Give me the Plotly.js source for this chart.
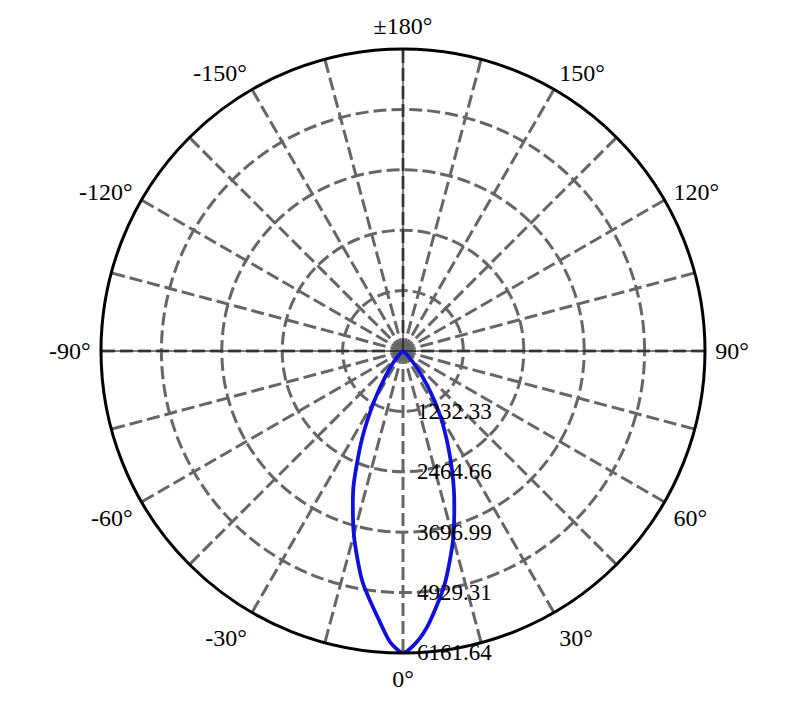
<!DOCTYPE html>
<html>
<head>
<meta charset="utf-8">
<script src="https://cdn.plot.ly/plotly-3.0.1.min.js"></script>
<style>
  html, body { margin: 0; padding: 0; background: #ffffff; }
  #chart { width: 812px; height: 711px; }
</style>
</head>
<body>
<div id="chart"></div>
<script>
// Luminous intensity distribution (cd) vs angle (deg)
const thetaDeg = [-180,-150,-120,-90,-80,-70,-60,-55,-50,-45,-40,-35,-30,-25,-20,-15,-10,-5,-2.5,0,2.5,5,10,15,20,25,30,35,40,45,50,55,60,70,80,90,120,150,180];
const intensity = [0,0,0,0,2,5,10,20,41,122,306,612,1163,1979,2958,3876,4774,5528,5950,6161.64,5965,5651,4855,3958,3040,2203,1510,877,408,163,61,22,10,5,2,0,0,0,0];

// Radial ticks
const radialTickVals = [1232.33, 2464.66, 3696.99, 4929.31, 6161.64];
const radialTickText = ["1232.33", "2464.66", "3696.99", "4929.31", "6161.64"];

// Angular ticks (grid every 15°, labels every 30°)
const angularTickVals = [0,15,30,45,60,75,90,105,120,135,150,165,180,195,210,225,240,255,270,285,300,315,330,345];
const angularTickText = ["0°","","30°","","60°","","90°","","120°","","150°","","±180°","","-150°","","-120°","","-90°","","-60°","","-30°",""];

const rMax = radialTickVals[radialTickVals.length - 1];
const FONT = 'Liberation Serif, Times New Roman, serif';

const axisLines = {
  type: 'scatterpolar',
  mode: 'lines',
  r: [rMax, 0, rMax, null, 0, rMax],
  theta: [90, 0, -90, null, 0, 180],
  line: { color: '#000000', width: 1 },
  hoverinfo: 'skip',
  showlegend: false
};

const curve = {
  type: 'scatterpolar',
  mode: 'lines',
  r: intensity,
  theta: thetaDeg,
  line: { color: '#1010dc', width: 3.8, shape: 'spline', smoothing: 0.7 },
  showlegend: false
};

const layout = {
  width: 812,
  height: 711,
  margin: { l: 101, r: 107, t: 49, b: 58 },
  paper_bgcolor: '#ffffff',
  plot_bgcolor: '#ffffff',
  font: { family: FONT, size: 22, color: '#000000' },
  showlegend: false,
  polar: {
    bgcolor: '#ffffff',
    domain: { x: [0, 1], y: [0, 1] },
    angularaxis: {
      rotation: -90,
      direction: 'counterclockwise',
      tickmode: 'array',
      tickvals: angularTickVals,
      ticktext: angularTickText,
      ticks: 'outside',
      ticklen: 4,
      tickcolor: 'rgba(0,0,0,0)',
      showline: true,
      linecolor: '#000000',
      linewidth: 3,
      showgrid: true,
      gridcolor: '#666666',
      gridwidth: 3,
      griddash: '13px,5px',
      tickfont: { family: FONT, size: 24, color: '#000000' }
    },
    radialaxis: {
      range: [0, rMax],
      angle: -90,
      tickangle: -90,
      side: 'counterclockwise',
      tickmode: 'array',
      tickvals: radialTickVals,
      ticktext: radialTickText,
      ticks: 'outside',
      ticklen: 9,
      tickcolor: 'rgba(0,0,0,0)',
      showline: false,
      showgrid: true,
      gridcolor: '#666666',
      gridwidth: 3,
      griddash: '13px,5px',
      tickfont: { family: FONT, size: 23, color: '#000000' }
    }
  }
};

Plotly.newPlot('chart', [axisLines, curve], layout, { displayModeBar: false, staticPlot: true });
</script>
</body>
</html>
